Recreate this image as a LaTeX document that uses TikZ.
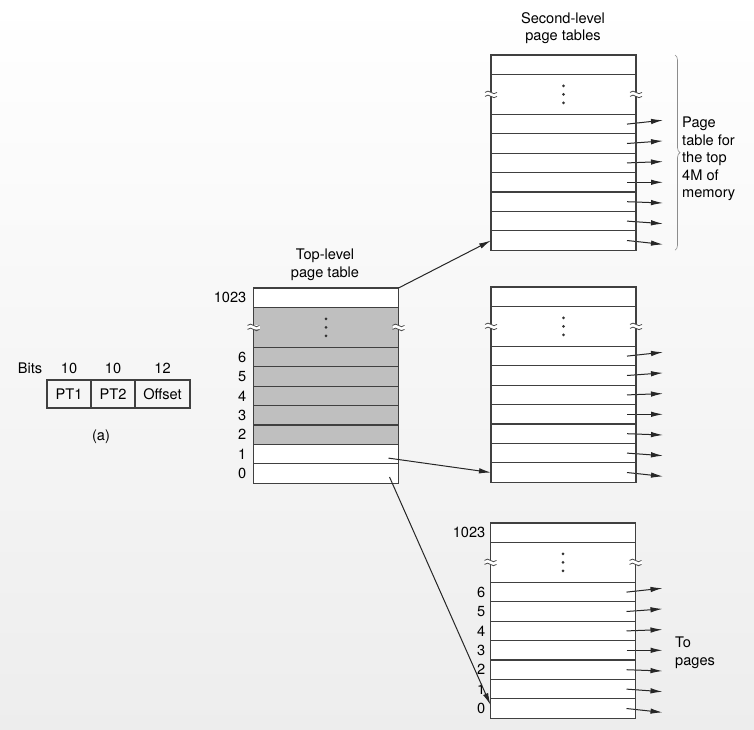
\documentclass[tikz,border=0pt]{standalone}
\usepackage{fontspec}
\setmainfont{TeX Gyre Heros}
\usetikzlibrary{arrows.meta,decorations.pathreplacing,positioning}

\tikzset{
    entry/.style={minimum width=145pt, minimum height=19.4pt, inner sep=0pt, outer sep=0pt},
    gaprow/.style={entry, minimum height=40pt},
    greyrow/.style={fill=black!25},
    rule/.style={draw=black!75, line width=1.1pt},
    field/.style={entry, rule, minimum width=44pt, minimum height=28pt},
    ptr/.style={-{Latex[length=12pt,width=5.5pt]}, line width=1pt, black!85},
    lbl/.style={font=\fontsize{14.6}{17.5}\selectfont, inner sep=1pt, align=center},
    breakline/.style={line width=0.8pt, black!70},
    curly/.style={decorate, decoration={brace, amplitude=5pt}, line width=0.6pt, black!45},
}

\begin{document}
\begin{tikzpicture}[x=1pt, y=-1pt]
    \useasboundingbox (0,0) rectangle (754,729);
    \shade[top color=white, bottom color=black!7] (0,0) rectangle (754,729);

    % Address fields
    \node[field] (pt1) at (69, 394) {\fontsize{14.6}{17.5}\selectfont PT1};
    \node[field, anchor=west] (pt2) at (pt1.east) {\fontsize{14.6}{17.5}\selectfont PT2};
    \node[field, minimum width=55pt, anchor=west] (off) at (pt2.east) {\fontsize{14.6}{17.5}\selectfont Offset};
    \node[lbl, above=5pt of pt1] (b1) {10};
    \node[lbl, above=5pt of pt2] (b2) {10};
    \node[lbl, above=5pt of off] (b3) {12};
    \node[lbl] (bits) at (30, 368) {Bits};
    \node[lbl] (fig-a) at (101, 437) {(a)};

    % Top-level page table
    \node[entry, fill=white] (tl-top) at (326, 297.7) {};
    \node[gaprow, greyrow] (tl-gap) at (326, 327.4) {};
    \foreach \k in {2,...,6}
        \node[entry, greyrow] (tl-\k) at (326, {357.1 + (6-\k)*19.4}) {};
    \foreach \k in {0,1}
        \node[entry, fill=white] (tl-\k) at (326, {357.1 + (6-\k)*19.4}) {};
    \node[lbl] (tl-title) at (325, 265) {Top-level\\page table};
    \node[lbl, anchor=east] (tl-l1023) at ([xshift=-6pt]tl-top.west) {1023};
    \foreach \k in {0,...,6}
        \node[lbl, anchor=east] (tl-l\k) at ([xshift=-6pt]tl-\k.west) {\k};

    % Second-level page tables
    \foreach \t/\x/\y in {sa/563.5/55, sb/563.5/287, sc/563/523} {
        \node[entry, fill=white] (\t-top) at (\x, {\y+9.7}) {};
        \node[gaprow, fill=white] (\t-gap) at (\x, {\y+39.4}) {};
        \foreach \k in {0,...,6}
            \node[entry, fill=white] (\t-\k) at (\x, {\y+69.1 + (6-\k)*19.4}) {};
        \foreach \k in {0,...,6}
            \draw[ptr] ([xshift=-9pt]\t-\k.east) -- ++(36, {(3-\k)*1.3});
    }
    \node[lbl] (sa-title) at (563, 28) {Second-level\\page tables};
    \node[lbl, anchor=east] (sc-l1023) at ([xshift=-4pt]sc-top.west) {1023};
    \foreach \k in {0,...,6}
        \node[lbl, anchor=east] (sc-l\k) at ([xshift=-4pt]sc-\k.west) {\k};

    % Frames, rules, dots and break marks
    \foreach \t in {tl,sa,sb,sc} {
        \draw[rule] (\t-top.north west) rectangle (\t-0.south east);
        \foreach \r in {gap,6,5,4,3,2,1,0}
            \draw[rule] (\t-\r.north west) -- (\t-\r.north east);
        \foreach \d in {-8.5,0,8.5}
            \fill[black!80] ([yshift=\d pt]\t-gap.center) circle (1.5pt);
        \foreach \s in {west,east} {
            \begin{scope}[shift={(\t-gap.\s)}]
                \fill[white] (-6,-2) rectangle (6,2);
                \draw[breakline] (-6,-2) .. controls (-2,-6.5) and (2,2.5) .. (6,-2);
                \draw[breakline] (-6,2) .. controls (-2,-2.5) and (2,6.5) .. (6,2);
            \end{scope}
        }
    }

    % Pointers from the top-level table
    \draw[ptr] (tl-top.north east) -- (sa-0.west);
    \draw[ptr] ([xshift=-10pt, yshift=-4pt]tl-1.east) -- (sb-0.west);
    \draw[ptr] ([xshift=-9pt, yshift=-3.5pt]tl-0.east) -- ([yshift=3.5pt]sc-0.west);

    % Notes
    \draw[curly] ([xshift=39pt]sa-top.north east) -- ([xshift=39pt]sa-0.south east);
    \node[lbl, align=left, anchor=west] (sa-note) at (681, 159) {Page\\table for\\the top\\4M of\\memory};
    \node[lbl, align=left, anchor=west] (sc-note) at (674, 653) {To\\pages};
\end{tikzpicture}
\end{document}
